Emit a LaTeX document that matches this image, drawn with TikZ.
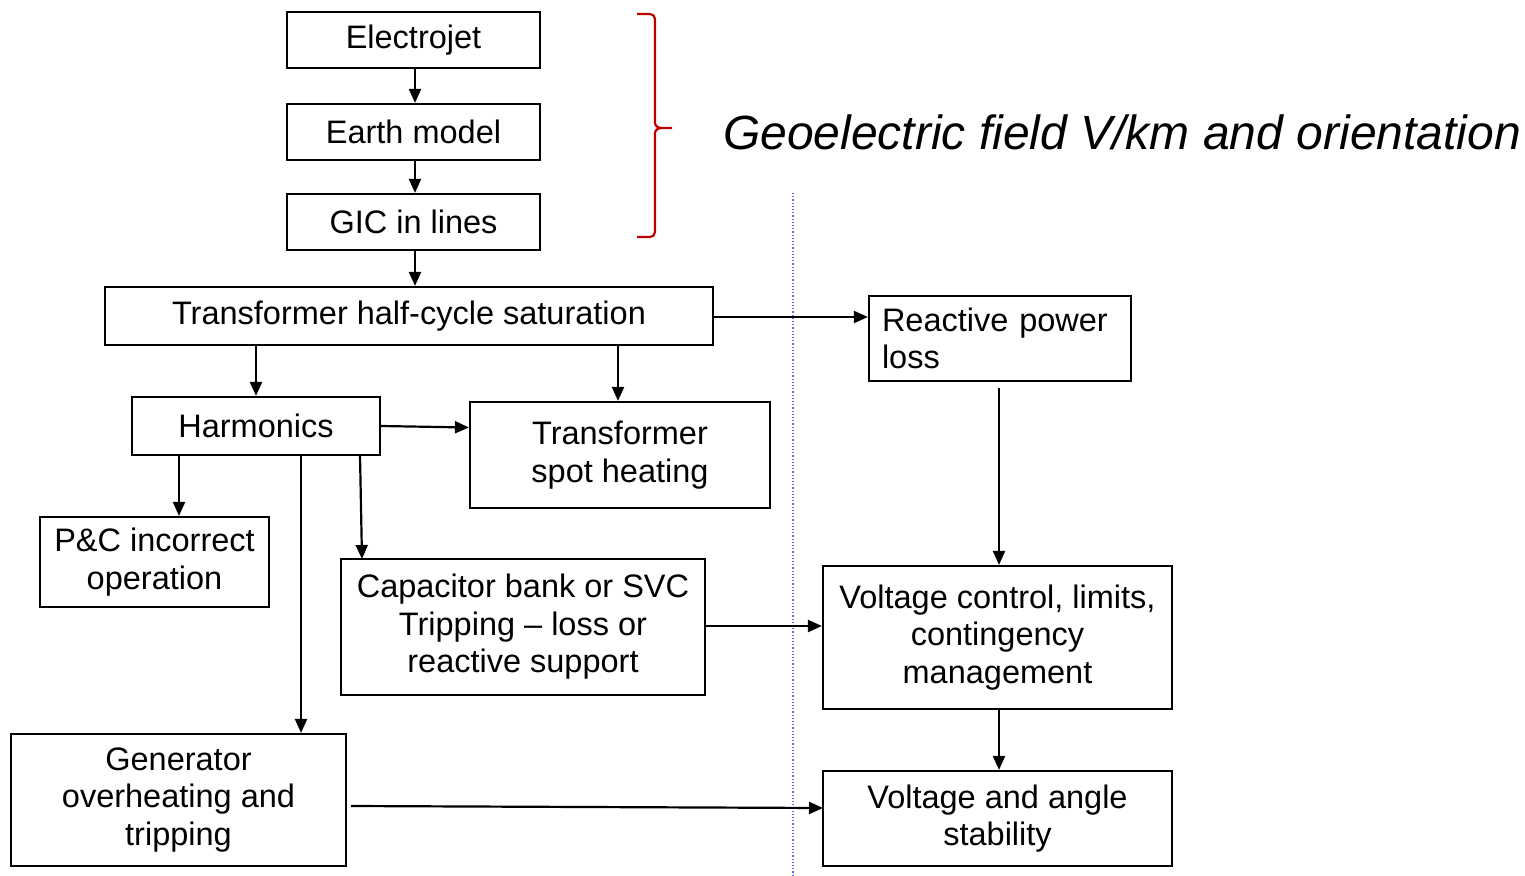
\documentclass[tikz,border=0pt]{standalone}
\usepackage{fontspec}
\setmainfont{Liberation Sans}
\usetikzlibrary{arrows.meta,calc}
\begin{document}
\begin{tikzpicture}[x=1pt,y=-1pt,
  box/.style={draw,line width=2.2pt,inner sep=0pt,align=center,font=\fontsize{32.5}{37.5}\selectfont},
  arr/.style={line width=2.2pt,-{Triangle[length=14pt,width=12pt]}}]
\useasboundingbox (0,0) rectangle (1525,875);
% boxes
\node[box,minimum width=253pt,minimum height=56pt] (ej) at (413.5,40) {Electrojet};
\node[box,minimum width=253pt,minimum height=56pt] (em) at (413.5,132) {Earth model};
\node[box,minimum width=253pt,minimum height=56pt] (gic) at (413.5,222) {GIC in lines};
\node[box,minimum width=608pt,minimum height=58pt] (ts) at (409,316) {Transformer half-cycle saturation};
\node[box,minimum width=262pt,minimum height=85pt,text width=236pt,align=left] (rp) at (1000,338.5) {Reactive power\\loss};
\node[box,minimum width=248pt,minimum height=58pt] (harm) at (256,426) {Harmonics};
\node[box,minimum width=300pt,minimum height=106pt] (sh) at (620,455) {Transformer\\spot heating};
\node[box,minimum width=229pt,minimum height=90pt] (pc) at (154.5,562) {P\&C incorrect\\operation};
\node[box,minimum width=364pt,minimum height=136pt] (cap) at (523,627) {Capacitor bank or SVC\\Tripping -- loss or\\reactive support};
\node[box,minimum width=349pt,minimum height=143pt] (vc) at (997.5,637.5) {Voltage control, limits,\\contingency\\management};
\node[box,minimum width=335pt,minimum height=132pt] (gen) at (178.5,800) {Generator\\overheating and\\tripping};
\node[box,minimum width=349pt,minimum height=95pt] (va) at (997.5,818.5) {Voltage and angle\\stability};
% title
\node[anchor=west,inner sep=0pt,font=\fontsize{48}{50}\selectfont\itshape] (title) at (723,132) {Geoelectric field V/km and orientation};
% brace
\draw[red!75!black,line width=2.2pt] (637,14) -- (650,14) to[out=0,in=90] (655,19) -- (655,123) to[out=270,in=180] (662,128) -- (672,128)
  (662,128) to[out=180,in=90] (655,133) -- (655,232) to[out=270,in=0] (650,237) -- (637,237);
% dotted separator
\coordinate (dtop) at (793,193);
\coordinate (dbot) at (793,875);
\draw[blue!60,line width=1.2pt,dotted] (dtop) -- (dbot);
% helper coordinates
\coordinate (x415) at (415,0);
\coordinate (x256) at (256,0);
\coordinate (x618) at (618,0);
\coordinate (x179) at (179,0);
\coordinate (x301) at (301,0);
\coordinate (x999) at (999,0);
\coordinate (y317) at (0,317);
\coordinate (y626) at (0,626);
\coordinate (hc1) at (360,455);
\coordinate (hc2) at (362,559);
\coordinate (g1) at (351,806);
\coordinate (g2) at (823,808);
\coordinate (r1) at (999,388);
% arrows
\draw[arr] (ej.south -| x415) -- (em.north -| x415);
\draw[arr] (em.south -| x415) -- (gic.north -| x415);
\draw[arr] (gic.south -| x415) -- (ts.north -| x415);
\draw[arr] (ts.south -| x256) -- (harm.north -| x256);
\draw[arr] (ts.south -| x618) -- (sh.north -| x618);
\draw[arr] (ts.east |- y317) -- (rp.west |- y317);
\draw[arr] (harm.east) -- ($(sh.west |- harm.east)+(0,1.5)$);
\draw[arr] (harm.south -| x179) -- (pc.north -| x179);
\draw[arr] (harm.south -| x301) -- (gen.north -| x301);
\draw[arr] (hc1) -- (hc2);
\draw[arr] (r1) -- (vc.north -| x999);
\draw[arr] (cap.east |- y626) -- (vc.west |- y626);
\draw[arr] (vc.south -| x999) -- (va.north -| x999);
\draw[arr] (g1) -- (g2);
\end{tikzpicture}
\end{document}
